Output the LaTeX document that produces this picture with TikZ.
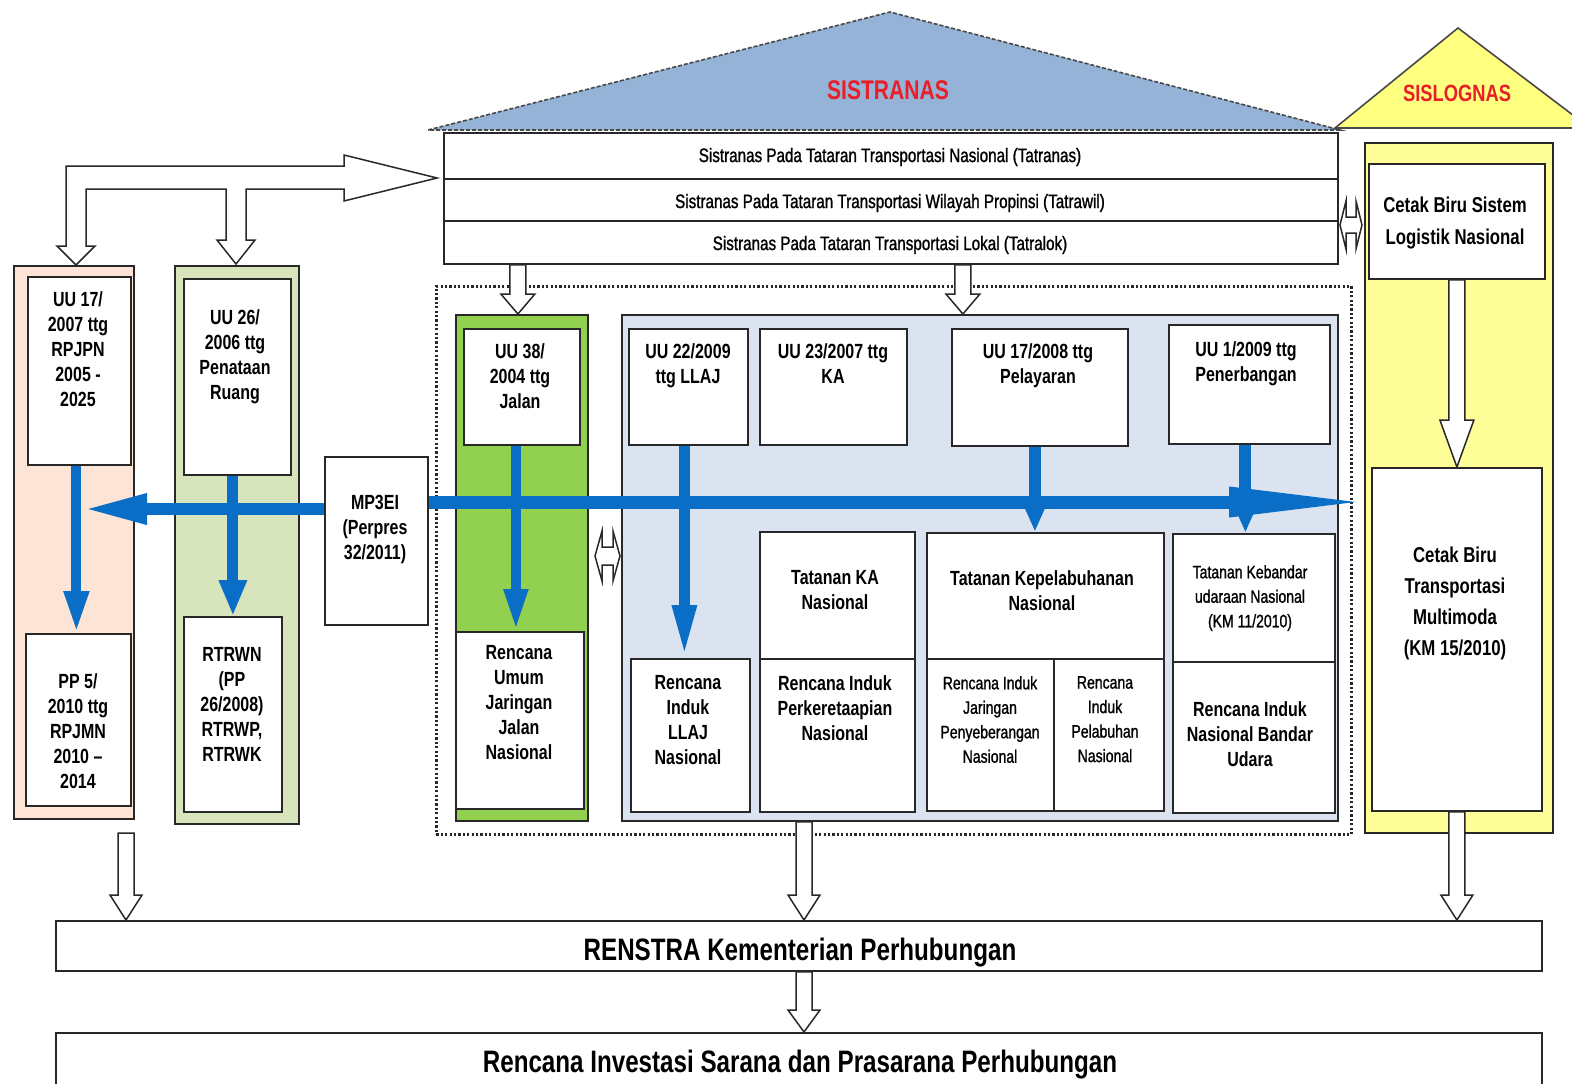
\documentclass[tikz,border=0pt]{standalone}
\usepackage{fontspec}
\setmainfont{Liberation Sans}[FakeStretch=0.78]
\newfontfamily\medfont{Liberation Sans}[FakeStretch=0.78, FakeBold=1.2]
\usetikzlibrary{arrows.meta,calc}

\definecolor{roofblue}{RGB}{149,179,215}
\definecolor{roofyellow}{RGB}{255,255,128}
\definecolor{colyellow}{RGB}{255,255,153}
\definecolor{peach}{RGB}{252,229,214}
\definecolor{sage}{RGB}{216,228,188}
\definecolor{leaf}{RGB}{146,208,80}
\definecolor{panelblue}{RGB}{220,227,240}
\definecolor{flowblue}{RGB}{10,110,198}
\definecolor{titlered}{RGB}{232,30,40}
\definecolor{edge}{RGB}{40,40,40}

% box: name, left, top, width, height, style
\newcommand\bx[6]{\node[#6, minimum width=#4pt, minimum height=#5pt] (#1) at (#2,#3) {};}
% hollow block arrow pointing down: y from #1, x and tip from #2
\newcommand\blockdown[5]{%
  \path[hollow] let \p1=(#1), \p2=(#2) in
    (\x2-#3pt,\y1) -- (\x2+#3pt,\y1) -- (\x2+#3pt,\y2+#5pt) -- (\x2+#4pt,\y2+#5pt)
    -- (\x2,\y2) -- (\x2-#4pt,\y2+#5pt) -- (\x2-#3pt,\y2+#5pt) -- cycle;}
% hollow block arrow with heads at both ends (left-right)
\newcommand\blocklr[5]{%
  \path[hollow] let \p1=(#1), \p2=(#2) in
    (\x1,\y1) -- (\x1+#5pt,\y1+#4pt) -- (\x1+#5pt,\y1+#3pt) -- (\x2-#5pt,\y1+#3pt)
    -- (\x2-#5pt,\y1+#4pt) -- (\x2,\y1) -- (\x2-#5pt,\y1-#4pt) -- (\x2-#5pt,\y1-#3pt)
    -- (\x1+#5pt,\y1-#3pt) -- (\x1+#5pt,\y1-#4pt) -- cycle;}

\begin{document}
\begin{tikzpicture}[x=1pt,y=-1pt,
  wbox/.style={draw=edge, line width=1.8pt, fill=white, rectangle, inner sep=0pt, anchor=north west},
  colbox/.style={draw=edge, line width=1.8pt, rectangle, inner sep=0pt, anchor=north west},
  lbl/.style={font=\bfseries\fontsize{20.5}{25}\selectfont, align=center, inner sep=0pt, anchor=north},
  small/.style={font=\medfont\fontsize{18}{24.5}\selectfont, align=center, inner sep=0pt, anchor=north},
  strip/.style={font=\medfont\fontsize{19.5}{22}\selectfont, inner sep=0pt},
  banner/.style={font=\bfseries\fontsize{31}{34}\selectfont, inner sep=0pt},
  roof/.style={font=\bfseries\fontsize{#1}{#1}\selectfont, text=titlered, inner sep=0pt},
  hollow/.style={draw=edge, line width=1.5pt, fill=white, line join=miter},
  flow/.style={draw=flowblue, line width=11pt}]

\useasboundingbox (0,0) rectangle (1572,1084);
\fill[white] (0,0) rectangle (1572,1084);

% roofs
\path[fill=roofblue, draw=edge!85, line width=1.6pt, dash pattern=on 4pt off 2pt]
  (428,130) -- (890,12) -- (1340,130) -- cycle;
\path[fill=roofyellow, draw=edge!85, line width=1.6pt]
  (1335,128) -- (1458,28) -- (1590,128) -- cycle;
\node[roof=27] (sistranas) at (888,90) {SISTRANAS};
\node[roof=23.5] (sislognas) at (1457,93) {SISLOGNAS};

% the three Sistranas levels
\bx{tatranas}{443}{132}{894}{46}{wbox}
\bx{tatrawil}{443}{178}{894}{42}{wbox}
\bx{tatralok}{443}{220}{894}{43}{wbox}
\node[strip] (tatranasT) at (890,157) {Sistranas Pada Tataran Transportasi Nasional (Tatranas)};
\node[strip] (tatrawilT) at (890,203) {Sistranas Pada Tataran Transportasi Wilayah Propinsi (Tatrawil)};
\node[strip] (tatralokT) at (890,245) {Sistranas Pada Tataran Transportasi Lokal (Tatralok)};

% dotted frame of the sectoral laws
\node[draw=edge, line width=2.6pt, dash pattern=on 2.2pt off 2.2pt, rectangle, inner sep=0pt,
  anchor=north west, minimum width=915pt, minimum height=548pt] (sektor) at (435,285) {};

% left columns
\bx{peachcol}{13}{265}{120}{553}{colbox, fill=peach}
\bx{uuseventeen}{27}{276}{103}{188}{wbox}
\bx{ppfive}{25}{633}{105}{172}{wbox}
\bx{sagecol}{174}{265}{124}{558}{colbox, fill=sage}
\bx{uutwentysix}{183}{278}{107}{196}{wbox}
\bx{rtrwn}{183}{616}{98}{195}{wbox}
\bx{mpei}{324}{456}{103}{168}{wbox}

% road column
\bx{leafcol}{455}{314}{132}{506}{colbox, fill=leaf}
\bx{uuthirtyeight}{463}{328}{116}{116}{wbox}
\bx{rencanajalan}{455}{631}{128}{177}{wbox}

% transport modes panel
\bx{panel}{621}{314}{716}{506}{colbox, fill=panelblue}
\bx{uullaj}{628}{328}{119}{116}{wbox}
\bx{uuka}{759}{328}{147}{116}{wbox}
\bx{uulaut}{951}{328}{176}{117}{wbox}
\bx{uuudara}{1168}{324}{161}{119}{wbox}
\bx{rillaj}{630}{658}{119}{153}{wbox}
\bx{tatka}{759}{531}{155}{127}{wbox}
\bx{rika}{759}{658}{155}{153}{wbox}
\bx{tatlaut}{926}{532}{237}{126}{wbox}
\bx{rijaringan}{926}{658}{127}{152}{wbox}
\bx{ripelabuhan}{1053}{658}{110}{152}{wbox}
\bx{tatudara}{1172}{533}{162}{128}{wbox}
\bx{riudara}{1172}{661}{162}{151}{wbox}

% logistics column
\bx{yellowcol}{1364}{142}{188}{690}{colbox, fill=colyellow}
\bx{cbsistem}{1368}{163}{176}{115}{wbox}
\bx{cbmulti}{1371}{467}{170}{343}{wbox}

% bottom banners
\bx{renstra}{55}{920}{1486}{50}{wbox}
\bx{investasi}{55}{1032}{1486}{80}{wbox}
\node[banner] (renstraT) at (800,953) {RENSTRA Kementerian Perhubungan};
\node[banner] (investasiT) at (800,1065) {Rencana Investasi Sarana dan Prasarana Perhubungan};

% feed from the national plans into Sistranas
\coordinate (feedtip) at (437,178);
\path[hollow] (66,166) -- (344,166) -- (344,155) -- (feedtip) -- (344,201) -- (344,189)
  -- (246,189) -- (246,240) -- (255,240) -- (236,264) -- (217,240) -- (226,240)
  -- (226,189) -- (86,189) -- (86,246) -- (95,246) -- (76,265) -- (57,246) -- (66,246) -- cycle;

% hollow block arrows
\coordinate (leafin) at ([xshift=-4pt]leafcol.north);
\coordinate (panelin) at ([xshift=-17pt]panel.north);
\coordinate (peachout) at (126,833);
\coordinate (midout) at (804,0);
\blockdown{tatralok.south}{leafin}{8}{17}{20}
\blockdown{tatralok.south}{panelin}{8}{17}{20}
\blockdown{cbsistem.south}{cbmulti.north}{8}{17}{47}
\blockdown{peachout}{peachout |- renstra.north}{8}{16}{25}
\blockdown{panel.south}{midout |- renstra.north}{8}{16}{25}
\blockdown{cbmulti.south}{cbmulti.south |- renstra.north}{8}{16}{25}
\blockdown{renstra.south}{midout |- investasi.north}{8}{16}{22}

\coordinate (gapl) at (595,556);
\coordinate (gapr) at (620,556);
\blocklr{gapl}{gapr}{9}{25}{7}
\coordinate (sidel) at (1340,225);
\coordinate (sider) at (1362,225);
\blocklr{sidel}{sider}{8}{24}{6}

% blue flows
\draw[flow, line width=10pt, -{Triangle[length=42pt,width=23pt]}]
  ([xshift=-3pt]uuseventeen.south) -- ([xshift=-3pt]uuseventeen.south |- ppfive.north);
\draw[flow, line width=11pt, -{Triangle[length=36pt,width=26pt]}]
  (uutwentysix.south -| rtrwn.north) -- (rtrwn.north);
\draw[flow, line width=10pt, -{Triangle[length=42pt,width=22pt]}]
  ([xshift=-6pt]uuthirtyeight.south) -- ([xshift=-6pt]uuthirtyeight.south |- rencanajalan.north);
\draw[flow, line width=11pt, -{Triangle[length=53pt,width=22pt]}]
  ([xshift=-4pt]uullaj.south) -- ([xshift=-4pt]uullaj.south |- rillaj.north);
\draw[flow, line width=12pt, -{Triangle[length=32pt,width=25pt]}]
  ([xshift=-5pt]uulaut.south) -- ([xshift=-5pt]uulaut.south |- tatlaut.north);
\draw[flow, line width=12pt, -{Triangle[length=32pt,width=25pt]}]
  ([xshift=-4pt]uuudara.south) -- ([xshift=-4pt]uuudara.south |- tatudara.north);
\coordinate (lefttip) at (83,509);
\coordinate (righttip) at (1371,502);
\draw[flow, line width=12pt, -{Triangle[length=64pt,width=28pt]}] (mpei.west |- lefttip) -- (lefttip);
\draw[flow, line width=13pt, -{Triangle[length=142pt,width=27pt]}] (mpei.east |- righttip) -- (righttip);

% labels
\node[lbl] (uuseventeenT) at (78,291) {UU 17/\\2007 ttg\\RPJPN\\2005 -\\2025};
\node[lbl] (ppfiveT) at (78,673) {PP 5/\\2010 ttg\\RPJMN\\2010 –\\2014};
\node[lbl] (uutwentysixT) at (235,309) {UU 26/\\2006 ttg\\Penataan\\Ruang};
\node[lbl] (rtrwnT) at (232,647) {RTRWN\\(PP\\26/2008)\\RTRWP,\\RTRWK};
\node[lbl] (mpeiT) at (375,495) {MP3EI\\(Perpres\\32/2011)};
\node[lbl] (uuthirtyeightT) at (520,343) {UU 38/\\2004 ttg\\Jalan};
\node[lbl] (rencanajalanT) at (519,645) {Rencana\\Umum\\Jaringan\\Jalan\\Nasional};
\node[lbl] (uullajT) at (688,343) {UU 22/2009\\ttg LLAJ};
\node[lbl] (uukaT) at (833,343) {UU 23/2007 ttg\\KA};
\node[lbl] (uulautT) at (1038,343) {UU 17/2008 ttg\\Pelayaran};
\node[lbl] (uuudaraT) at (1246,341) {UU 1/2009 ttg\\Penerbangan};
\node[lbl] (tatkaT) at (835,570) {Tatanan KA\\Nasional};
\node[lbl] (rikaT) at (835,675) {Rencana Induk\\Perkeretaapian\\Nasional};
\node[lbl] (rillajT) at (688,675) {Rencana\\Induk\\LLAJ\\Nasional};
\node[lbl] (tatlautT) at (1042,570) {Tatanan Kepelabuhanan\\Nasional};
\node[small] (rijaringanT) at (990,676) {Rencana Induk\\Jaringan\\Penyeberangan\\Nasional};
\node[small] (ripelabuhanT) at (1105,676) {Rencana\\Induk\\Pelabuhan\\Nasional};
\node[small] (tatudaraT) at (1250,565) {Tatanan Kebandar\\udaraan Nasional\\(KM 11/2010)};
\node[lbl] (riudaraT) at (1250,701) {Rencana Induk\\Nasional Bandar\\Udara};
\node[lbl, font=\bfseries\fontsize{21.5}{32}\selectfont] (cbsistemT) at (1455,197) {Cetak Biru Sistem\\Logistik Nasional};
\node[lbl, font=\bfseries\fontsize{21.5}{31}\selectfont] (cbmultiT) at (1455,547) {Cetak Biru\\Transportasi\\Multimoda\\(KM 15/2010)};

\end{tikzpicture}
\end{document}
